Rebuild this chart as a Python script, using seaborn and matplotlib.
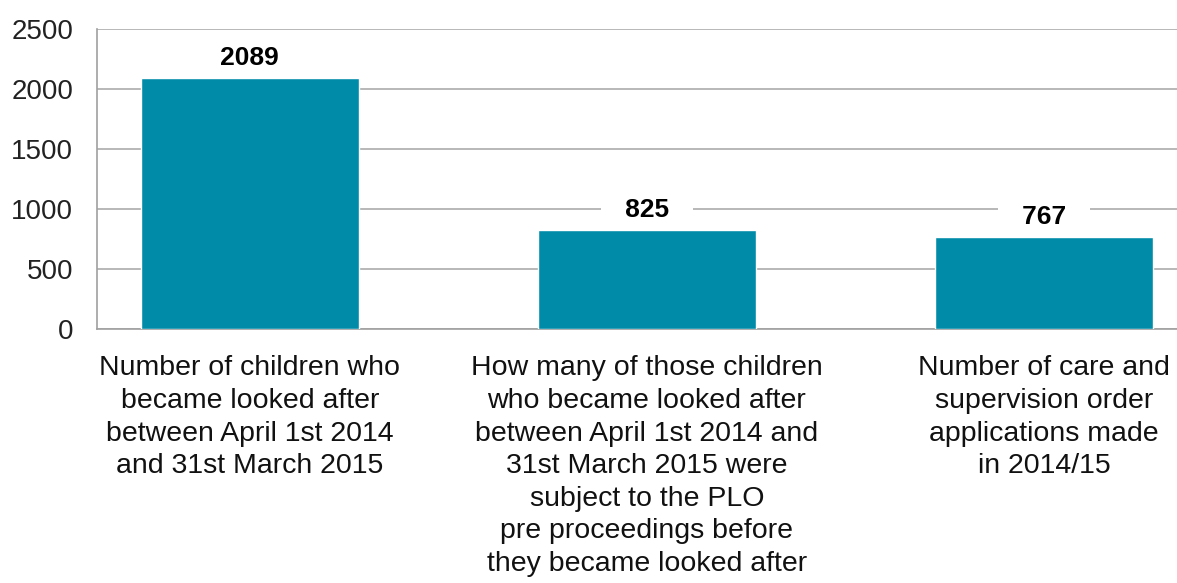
import matplotlib
matplotlib.use("Agg")
import matplotlib.pyplot as plt
import seaborn as sns
import pandas as pd

categories = [
    "Number of children who\nbecame looked after\nbetween April 1st 2014\nand 31st March 2015",
    "How many of those children\nwho became looked after\nbetween April 1st 2014 and\n31st March 2015 were\nsubject to the PLO\npre proceedings before\nthey became looked after",
    "Number of care and\nsupervision order\napplications made\nin 2014/15",
]
values = [2089, 825, 767]
y_ticks = [0, 500, 1000, 1500, 2000, 2500]

sns.set_theme(style="white")
plt.rcParams["font.family"] = ["Liberation Sans", "DejaVu Sans"]

df = pd.DataFrame({"category": categories, "value": values})

fig = plt.figure(figsize=(11.77, 5.83), dpi=100)
ax = fig.add_axes([0.0824, 0.4357, 0.9176, 0.5146])

sns.barplot(data=df, x="category", y="value", color="#008CA8",
            saturation=1, width=0.55, ax=ax, zorder=3)

ax.set_ylim(0, 2500)
ax.set_xlim(-0.385, 2.335)
ax.set_yticks(y_ticks)
ax.set_yticklabels([str(t) for t in y_ticks], fontsize=20, color="#222222")
ax.yaxis.grid(True, color="#ABABAB", linewidth=1.2, zorder=0)
ax.set_axisbelow(True)
ax.tick_params(axis="y", length=0, pad=17)
ax.tick_params(axis="x", length=0, pad=19)
for lbl in ax.get_xticklabels():
    lbl.set_fontsize(20.5)
    lbl.set_color("#111111")
    lbl.set_linespacing(1.33)
    lbl.set_verticalalignment("top")
ax.set_xlabel("")
ax.set_ylabel("")

for side in ["top", "right"]:
    ax.spines[side].set_visible(False)
for side in ["left", "bottom"]:
    ax.spines[side].set_color("#A0A0A0")
    ax.spines[side].set_linewidth(1.2)

for i, v in enumerate(values):
    ax.annotate(f"   {v}   ", xy=(i, v), xytext=(0, 14.5), textcoords="offset points",
                ha="center", va="center", fontsize=19, fontweight="bold",
                color="#000000",
                bbox=dict(boxstyle="square,pad=0.08", fc="white", ec="none"),
                zorder=5)

fig.savefig("out.png", dpi=100)
